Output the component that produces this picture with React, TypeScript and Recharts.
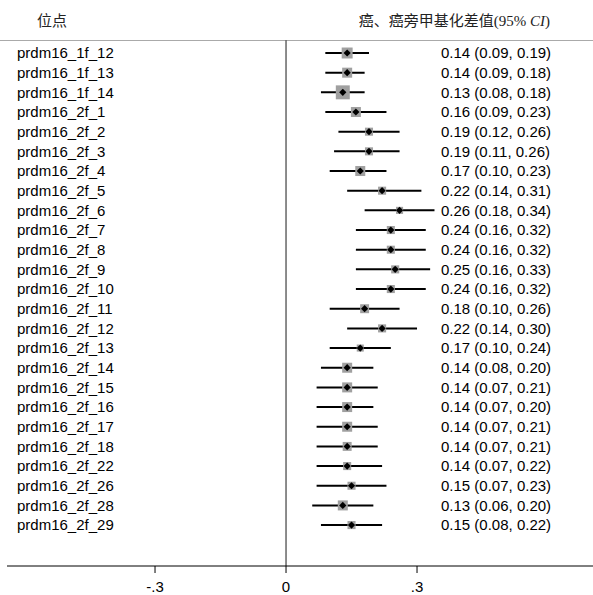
import {
  ComposedChart,
  Scatter,
  ErrorBar,
  XAxis,
  YAxis,
  ReferenceLine,
} from "recharts";

const sites = [
  "prdm16_1f_12", "prdm16_1f_13", "prdm16_1f_14", "prdm16_2f_1", "prdm16_2f_2",
  "prdm16_2f_3", "prdm16_2f_4", "prdm16_2f_5", "prdm16_2f_6", "prdm16_2f_7",
  "prdm16_2f_8", "prdm16_2f_9", "prdm16_2f_10", "prdm16_2f_11", "prdm16_2f_12",
  "prdm16_2f_13", "prdm16_2f_14", "prdm16_2f_15", "prdm16_2f_16", "prdm16_2f_17",
  "prdm16_2f_18", "prdm16_2f_22", "prdm16_2f_26", "prdm16_2f_28", "prdm16_2f_29",
];
const estimates = [
  0.14, 0.14, 0.13, 0.16, 0.19, 0.19, 0.17, 0.22, 0.26, 0.24, 0.24, 0.25, 0.24,
  0.18, 0.22, 0.17, 0.14, 0.14, 0.14, 0.14, 0.14, 0.14, 0.15, 0.13, 0.15,
];
const lower = [
  0.09, 0.09, 0.08, 0.09, 0.12, 0.11, 0.10, 0.14, 0.18, 0.16, 0.16, 0.16, 0.16,
  0.10, 0.14, 0.10, 0.08, 0.07, 0.07, 0.07, 0.07, 0.07, 0.07, 0.06, 0.08,
];
const upper = [
  0.19, 0.18, 0.18, 0.23, 0.26, 0.26, 0.23, 0.31, 0.34, 0.32, 0.32, 0.33, 0.32,
  0.26, 0.30, 0.24, 0.20, 0.21, 0.20, 0.21, 0.21, 0.22, 0.23, 0.20, 0.22,
];
// relative study weights (box area)
const weights = [
  4.8, 4.0, 7.8, 4.0, 2.6, 2.6, 4.0, 2.6, 2.0, 2.6, 2.6, 2.6, 2.6,
  3.2, 2.6, 2.0, 4.0, 4.0, 4.0, 4.0, 3.2, 2.6, 2.6, 4.0, 2.6,
];
const xTicks = [-0.3, 0, 0.3];

const fmt = (v: number) => v.toFixed(2);

const data = sites.map((name, i) => ({
  name,
  idx: i,
  est: estimates[i],
  err: [estimates[i] - lower[i], upper[i] - estimates[i]],
  weight: weights[i],
  text: `${fmt(estimates[i])} (${fmt(lower[i])}, ${fmt(upper[i])})`,
}));

const Box = (props: any) => {
  const { cx, cy, payload } = props;
  const s = 5 * Math.sqrt(payload.weight);
  return <rect x={cx - s / 2} y={cy - s / 2} width={s} height={s} fill="#a0a0a0" />;
};

const Dot = (props: any) => {
  const { cx, cy } = props;
  const r = 3.6;
  return (
    <polygon
      points={`${cx},${cy - r} ${cx + r},${cy} ${cx},${cy + r} ${cx - r},${cy}`}
      fill="#000"
    />
  );
};

const sans = "'Liberation Sans', Arial, sans-serif";

const RowTick = (props: any) => {
  const { y, payload } = props;
  const row = data[payload.value];
  if (!row) return null;
  return (
    <g fontFamily={sans} fontSize={15} fill="#000">
      <text x={17} y={y} dy="0.35em" textAnchor="start">{row.name}</text>
      <text x={441} y={y} dy="0.35em" textAnchor="start">{row.text}</text>
    </g>
  );
};

const tickFmt = (v: number) => (v === 0 ? "0" : v < 0 ? "-" + String(Math.abs(v)).replace(/^0/, "") : String(v).replace(/^0/, ""));

const headFont = "'Liberation Serif', 'Noto Sans CJK SC', serif";

export default function App() {
  return (
    <div style={{ position: "absolute", left: 0, top: 0, width: 593, height: 595, background: "#fff" }}>
      <div style={{ position: "absolute", left: 37, top: 9, fontSize: 15, color: "#222", fontFamily: headFont }}>
        位点
      </div>
      <div style={{ position: "absolute", right: 43, top: 9, fontSize: 15, color: "#222", fontFamily: headFont }}>
        癌、癌旁甲基化差值(95% <i>CI</i>)
      </div>
      <div style={{ position: "absolute", left: 0, top: 40, width: 593, height: 1, background: "#aaa" }} />
      <ComposedChart
        width={593}
        height={595}
        data={data}
        margin={{ top: 40, right: 0, bottom: 0, left: 6 }}
      >
        <XAxis
          type="number"
          dataKey="est"
          domain={[-0.639, 0.703]}
          allowDataOverflow
          ticks={xTicks}
          tickFormatter={tickFmt}
          height={29}
          tickSize={7}
          tickMargin={8}
          stroke="#000"
          tick={{ fill: "#000", fontSize: 15, fontFamily: sans }}
        />
        <YAxis
          type="number"
          dataKey="idx"
          reversed
          domain={[-0.661, 26.08]}
          allowDataOverflow
          ticks={data.map((d) => d.idx)}
          width={1}
          axisLine={false}
          tickLine={false}
          tick={<RowTick />}
          interval={0}
        />
        <ReferenceLine x={0} stroke="#666" strokeWidth={1.5} />
        <Scatter dataKey="idx" shape={<Box />} isAnimationActive={false} />
        <Scatter dataKey="idx" shape={<Dot />} isAnimationActive={false}>
          <ErrorBar dataKey="err" direction="x" width={0} stroke="#000" strokeWidth={2} />
        </Scatter>
      </ComposedChart>
    </div>
  );
}
